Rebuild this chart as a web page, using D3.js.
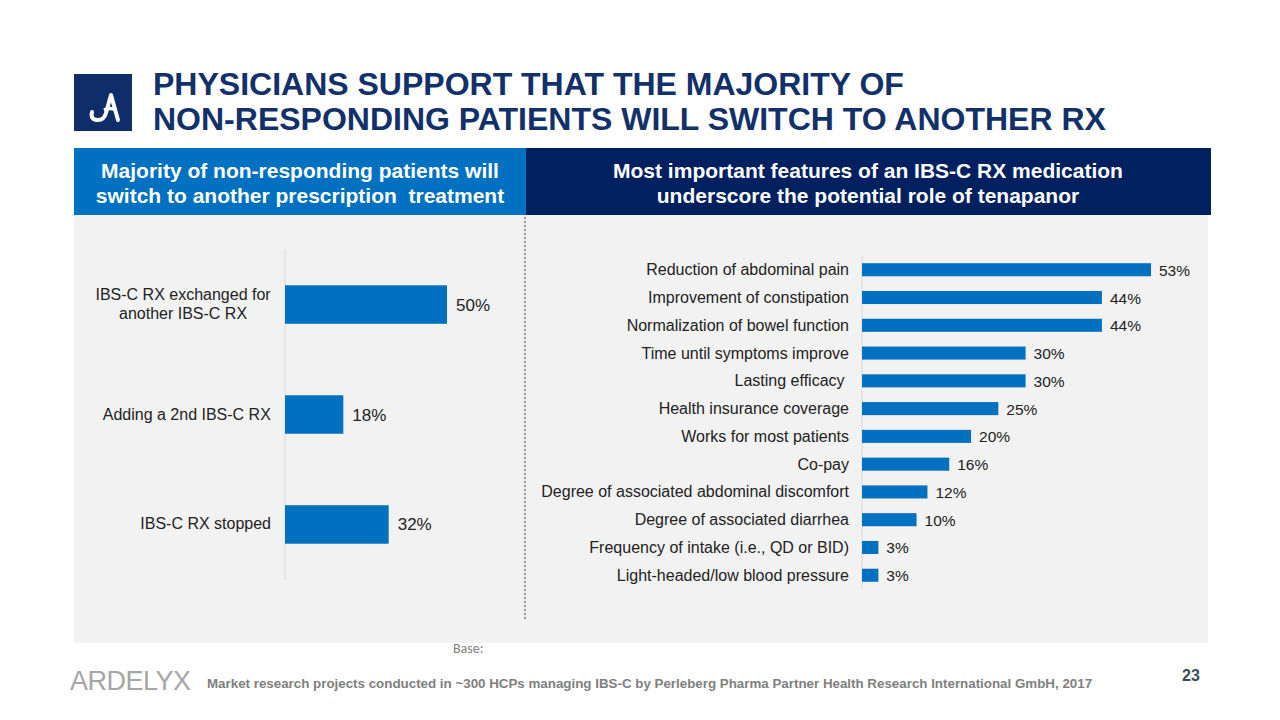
<!DOCTYPE html>
<html><head><meta charset="utf-8">
<script src="https://cdn.jsdelivr.net/npm/d3@7"></script>
<style>body{margin:0;background:#fff;}svg{display:block;font-family:Arial,"Liberation Sans",sans-serif;}</style>
</head><body>
<svg id="c" width="1280" height="720"></svg>
<script>
const leftCategories = ["IBS-C RX exchanged for\nanother IBS-C RX", "Adding a 2nd IBS-C RX", "IBS-C RX stopped"];
const leftValues = [50, 18, 32];
const rightCategories = ["Reduction of abdominal pain","Improvement of constipation","Normalization of bowel function","Time until symptoms improve","Lasting efficacy ","Health insurance coverage","Works for most patients","Co-pay","Degree of associated abdominal discomfort","Degree of associated diarrhea","Frequency of intake (i.e., QD or BID)","Light-headed/low blood pressure"];
const rightValues = [53,44,44,30,30,25,20,16,12,10,3,3];

const svg = d3.select("#c");
const barColor = "#0070c0";

// Title and logo
svg.append("rect").attr("x",74).attr("y",74).attr("width",58).attr("height",57).attr("fill","#0f2e69");
svg.append("path").attr("d","M92,112 q-2,8 6,8 q6,0 8,-7 l5,-18 l7,25")
  .attr("fill","none").attr("stroke","#fff").attr("stroke-width",4).attr("stroke-linecap","round").attr("stroke-linejoin","round");
svg.append("path").attr("d","M104,110 q6,-3 12,0").attr("fill","none").attr("stroke","#fff").attr("stroke-width",3.5);
const title = svg.append("text").attr("x",153).attr("fill","#12306a").attr("font-weight","bold").attr("font-size",32);
title.append("tspan").attr("x",153).attr("y",95).text("PHYSICIANS SUPPORT THAT THE MAJORITY OF");
title.append("tspan").attr("x",153).attr("y",130).text("NON-RESPONDING PATIENTS WILL SWITCH TO ANOTHER RX");

// panels
svg.append("rect").attr("x",74).attr("y",215).attr("width",1134).attr("height",428).attr("fill","#f2f2f2");
svg.append("rect").attr("x",74).attr("y",148).attr("width",452).attr("height",67).attr("fill","#0070c0");
svg.append("rect").attr("x",526).attr("y",148).attr("width",685).attr("height",67).attr("fill","#002060");
function headerText(x, lines){
  const t = svg.append("text").attr("text-anchor","middle").attr("fill","#fff").attr("font-weight","bold").attr("font-size",21).style("white-space","pre");
  lines.forEach((l,i)=>t.append("tspan").attr("x",x).attr("y",178+i*25).text(l));
}
headerText(300,["Majority of non-responding patients will","switch to another prescription  treatment"]);
headerText(868,["Most important features of an IBS-C RX medication","underscore the potential role of tenapanor"]);

// divider
svg.append("line").attr("x1",525).attr("x2",525).attr("y1",217).attr("y2",620)
  .attr("stroke","#a98bb5").attr("stroke-width",2).attr("stroke-dasharray","2,2");

// Left chart
const lx = d3.scaleLinear().domain([0,50]).range([285,447]);
const ly = d3.scaleBand().domain(leftCategories).range([249,580]).paddingInner(0.65).paddingOuter(0.33);
svg.append("line").attr("x1",285).attr("x2",285).attr("y1",249).attr("y2",580).attr("stroke","#d9d9d9");
const lg = svg.append("g");
leftCategories.forEach((c,i)=>{
  lg.append("rect").attr("x",lx(0)).attr("y",ly(c)).attr("width",lx(leftValues[i])-lx(0)).attr("height",ly.bandwidth()).attr("fill",barColor);
  lg.append("text").attr("x",lx(leftValues[i])+9).attr("y",ly(c)+ly.bandwidth()/2+6).attr("font-size",17).attr("fill","#222").text(leftValues[i]+"%");
  const lines = c.split("\n");
  const cy = ly(c)+ly.bandwidth()/2;
  const t = lg.append("text").attr("text-anchor","middle").attr("font-size",16).attr("fill","#222");
  lines.forEach((l,j)=>t.append("tspan").attr("x",0).attr("y",cy+5+(j-(lines.length-1)/2)*19).text(l));
  // right-align the block at x=271, center lines inside it
  const w = t.node().getBBox().width;
  t.selectAll("tspan").attr("x",271 - w/2);
});

// Right chart
const rx = d3.scaleLinear().domain([0,53]).range([862,1151]);
const ry = d3.scaleBand().domain(rightCategories).range([256,589]).paddingInner(0.53).paddingOuter(0.26);
svg.append("line").attr("x1",862).attr("x2",862).attr("y1",256).attr("y2",590).attr("stroke","#d9d9d9");
const rg = svg.append("g");
rightCategories.forEach((c,i)=>{
  const cy = ry(c)+ry.bandwidth()/2;
  rg.append("rect").attr("x",rx(0)).attr("y",ry(c)).attr("width",rx(rightValues[i])-rx(0)).attr("height",ry.bandwidth()).attr("fill",barColor);
  rg.append("text").attr("x",rx(rightValues[i])+8).attr("y",cy+6).attr("font-size",15.5).attr("fill","#222").text(rightValues[i]+"%");
  rg.append("text").attr("x",849).attr("y",cy+5.5).attr("text-anchor","end").attr("font-size",16).attr("fill","#222").style("white-space","pre").text(c);
});

// Base
svg.append("text").attr("x",453).attr("y",653).attr("font-family","Carlito,Calibri,'Liberation Sans',sans-serif").attr("font-size",14).attr("fill","#7f7f7f").text("Base:");

// Footer
svg.append("text").attr("x",70).attr("y",690).attr("font-size",27).attr("fill","#a6a6a6").attr("letter-spacing",-0.5).text("ARDELYX");
svg.append("text").attr("x",207).attr("y",688).attr("font-size",13.35).attr("font-weight","bold").attr("fill","#808080").text("Market research projects conducted in ~300 HCPs managing IBS-C by Perleberg Pharma Partner Health Research International GmbH, 2017");
svg.append("text").attr("x",1182).attr("y",681).attr("font-size",16).attr("font-weight","bold").attr("fill","#3c4a5c").text("23");
</script>
</body></html>
